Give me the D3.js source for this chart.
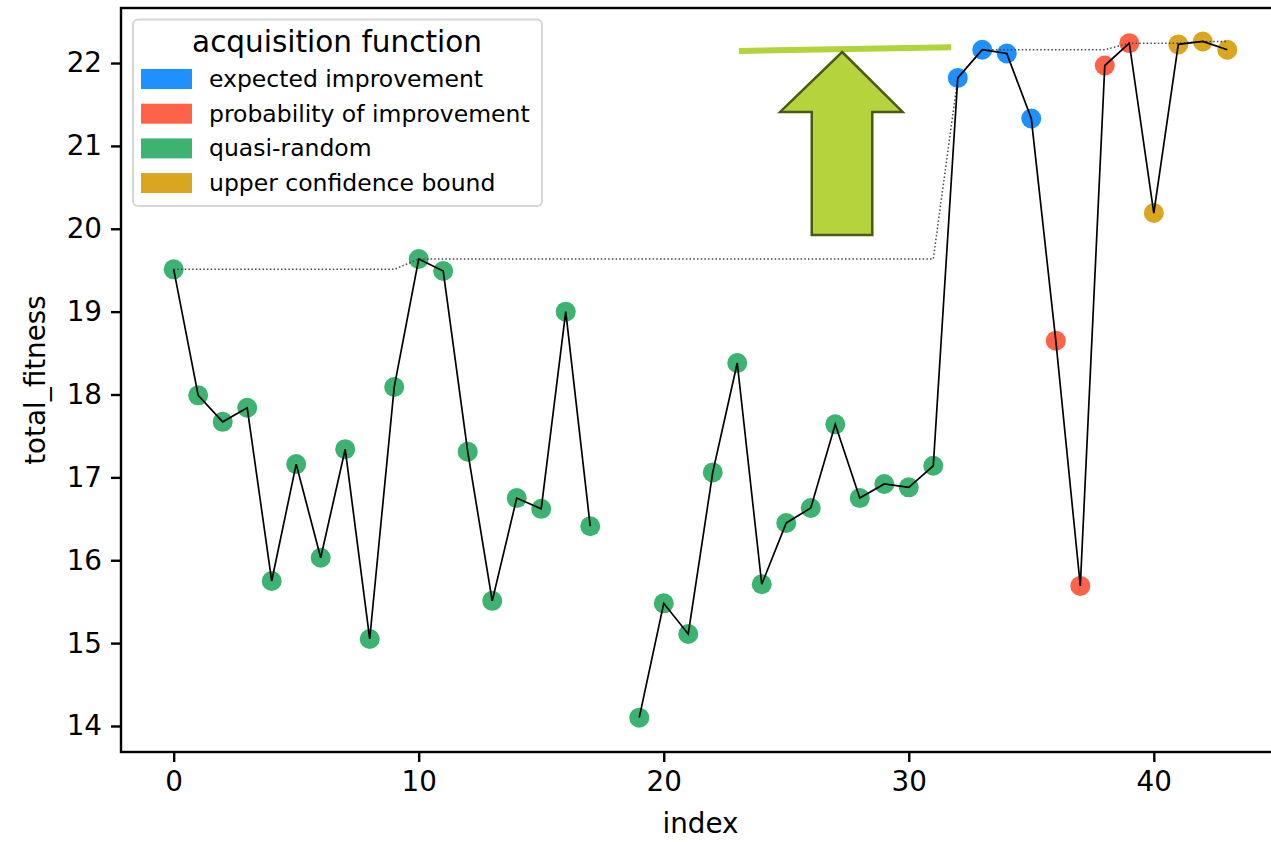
<!DOCTYPE html>
<meta charset="utf-8">
<style>
  body { margin: 0; background: #fff; }
  svg { display: block; overflow: hidden; }
  text { font-family: "DejaVu Sans", sans-serif; fill: #000; }
</style>
<body>
</body>

<script src="https://d3js.org/d3.v7.min.js"></script>
<script>

// run index, fitness and which acquisition function picked the point (18 is missing)
var runIndex = d3.range(44);
var fitness = [19.51, 17.99, 17.67, 17.84, 15.75, 17.16, 16.03, 17.34, 15.05, 18.09,
  19.635, 19.49, 17.31, 15.51, 16.75, 16.62, 19.00, 16.41, null, 14.10,
  15.48, 15.11, 17.06, 18.38, 15.71, 16.45, 16.63, 17.64, 16.75, 16.92,
  16.88, 17.14, 21.82, 22.16, 22.115, 21.33, 18.65, 15.69, 21.97, 22.24,
  20.19, 22.225, 22.26, 22.16];
var acquisition = [
  "qr", "qr", "qr", "qr", "qr", "qr", "qr", "qr", "qr", "qr",
  "qr", "qr", "qr", "qr", "qr", "qr", "qr", "qr", "qr", "qr",
  "qr", "qr", "qr", "qr", "qr", "qr", "qr", "qr", "qr", "qr",
  "qr", "qr", "ei", "ei", "ei", "ei", "pi", "pi", "pi", "pi",
  "ucb", "ucb", "ucb", "ucb"];
// best value so far (dotted line)
var bestSoFar = [19.51, 19.51, 19.51, 19.51, 19.51, 19.51, 19.51, 19.51, 19.51, 19.51,
  19.635, 19.635, 19.635, 19.635, 19.635, 19.635, 19.635, 19.635, 19.635, 19.635,
  19.635, 19.635, 19.635, 19.635, 19.635, 19.635, 19.635, 19.635, 19.635, 19.635,
  19.635, 19.635, 21.82, 22.16, 22.16, 22.16, 22.16, 22.16, 22.16, 22.24,
  22.24, 22.24, 22.26, 22.26];

var legendKeys = ["ei", "pi", "qr", "ucb"];
var legendLabels = ["expected improvement", "probability of improvement", "quasi-random", "upper confidence bound"];
var legendColors = ["#1e90ff", "#ff6347", "#3cb371", "#daa520"];

var xTicks = [0, 10, 20, 30, 40];
var yTicks = [14, 15, 16, 17, 18, 19, 20, 21, 22];

var width = 1271, height = 842;
var plot = {left: 121, right: 1280, top: 8, bottom: 752};

var x = d3.scaleLinear().domain([-2.15, 45.15]).range([plot.left, plot.right]);
var y = d3.scaleLinear().domain([13.686, 22.664]).range([plot.bottom, plot.top]);
var color = d3.scaleOrdinal().domain(legendKeys).range(legendColors);

var svg = d3.select("body").append("svg")
  .attr("width", width)
  .attr("height", height);

var points = runIndex.map(function(i) {
  return {i: i, v: fitness[i], best: bestSoFar[i], k: acquisition[i]};
});

// axes
var xAxis = svg.append("g")
  .attr("transform", "translate(0," + plot.bottom + ")")
  .call(d3.axisBottom(x).tickValues(xTicks).tickSize(10).tickPadding(9).tickFormat(d3.format("d")));
var yAxis = svg.append("g")
  .attr("transform", "translate(" + plot.left + ",0)")
  .call(d3.axisLeft(y).tickValues(yTicks).tickSize(10).tickPadding(9).tickFormat(d3.format("d")));
[xAxis, yAxis].forEach(function(a) {
  a.select(".domain").remove();
  a.selectAll(".tick line").attr("stroke", "#000").attr("stroke-width", 2.4);
  a.selectAll(".tick text").style("font-size", "27.8px").attr("fill", "#000");
});

svg.append("text")
  .attr("x", (plot.left + plot.right) / 2)
  .attr("y", 833)
  .attr("text-anchor", "middle")
  .style("font-size", "27.8px")
  .text("index");
svg.append("text")
  .attr("transform", "translate(45," + (plot.top + plot.bottom) / 2 + ") rotate(-90)")
  .attr("text-anchor", "middle")
  .style("font-size", "27.8px")
  .text("total_fitness");

// scatter
svg.append("g")
  .selectAll("circle")
  .data(points.filter(function(d) { return d.v != null; }))
  .enter()
  .append("circle")
  .attr("cx", function(d) { return x(d.i); })
  .attr("cy", function(d) { return y(d.v); })
  .attr("r", 10)
  .attr("fill", function(d) { return color(d.k); });

// best so far, dotted
svg.append("path")
  .datum(points)
  .attr("fill", "none")
  .attr("stroke", "#444")
  .attr("stroke-width", 1.5)
  .attr("stroke-dasharray", "1.5,2.2")
  .attr("d", d3.line().x(function(d) { return x(d.i); }).y(function(d) { return y(d.best); }));

// fitness line, gap where value is missing
svg.append("path")
  .datum(points)
  .attr("fill", "none")
  .attr("stroke", "#000")
  .attr("stroke-width", 1.7)
  .attr("stroke-linejoin", "miter")
  .attr("d", d3.line()
    .defined(function(d) { return d.v != null; })
    .x(function(d) { return x(d.i); })
    .y(function(d) { return y(d.v); }));

// annotation: arrow pointing up to a green bar
svg.append("line")
  .attr("x1", x(23.07)).attr("y1", y(22.145))
  .attr("x2", x(31.73)).attr("y2", y(22.19))
  .attr("stroke", "#b3d33b")
  .attr("stroke-width", 6);

var arrow = [[27.28, 22.133], [29.75, 21.41], [28.51, 21.41], [28.51, 19.925],
  [26.04, 19.925], [26.04, 21.41], [24.75, 21.41]];
svg.append("polygon")
  .attr("points", arrow.map(function(p) { return [x(p[0]), y(p[1])].join(","); }).join(" "))
  .attr("fill", "#b5d33d")
  .attr("stroke", "#4a5a12")
  .attr("stroke-width", 2.5)
  .attr("stroke-linejoin", "miter");

// frame
svg.append("rect")
  .attr("x", plot.left).attr("y", plot.top)
  .attr("width", plot.right - plot.left).attr("height", plot.bottom - plot.top)
  .attr("fill", "none")
  .attr("stroke", "#000")
  .attr("stroke-width", 2.4);

// legend
var legend = svg.append("g");
legend.append("rect")
  .attr("x", 133).attr("y", 19.5)
  .attr("width", 409).attr("height", 186.5)
  .attr("rx", 5)
  .attr("fill", "#fff").attr("fill-opacity", 0.8)
  .attr("stroke", "#d6d6d6").attr("stroke-width", 2);
legend.append("text")
  .attr("x", 337).attr("y", 52)
  .attr("text-anchor", "middle")
  .style("font-size", "29.5px")
  .text("acquisition function");
var rows = legend.selectAll(".row")
  .data(legendKeys)
  .enter()
  .append("g")
  .attr("class", "row")
  .attr("transform", function(d, i) { return "translate(0," + (79 + i * 34.7) + ")"; });
rows.append("rect")
  .attr("x", 141).attr("y", -10)
  .attr("width", 51).attr("height", 20)
  .attr("fill", function(d) { return color(d); });
rows.append("text")
  .attr("x", 209).attr("y", 8)
  .style("font-size", "23.5px")
  .text(function(d, i) { return legendLabels[i]; });

</script>
